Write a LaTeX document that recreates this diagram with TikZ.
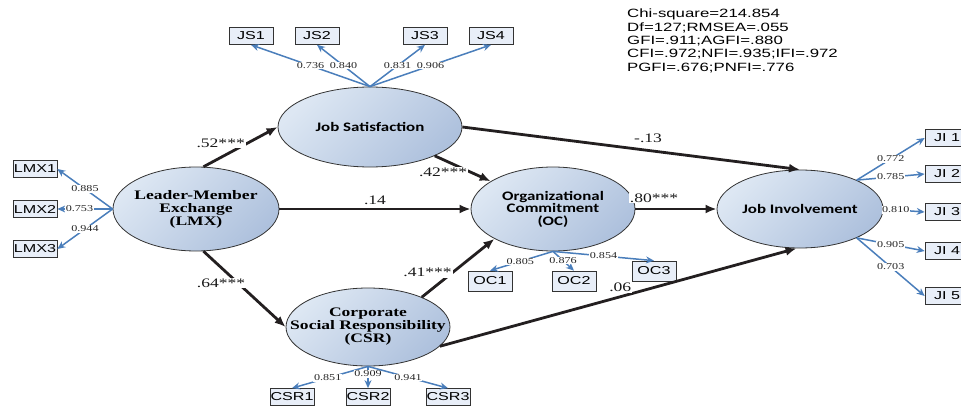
\documentclass[tikz,border=0pt]{standalone}
\usepackage{fontspec}
\usetikzlibrary{
    calc,
    arrows.meta,
    shapes.geometric
}
\newfontfamily\serifwide[FakeStretch=1.35]{Liberation Serif}
\newfontfamily\calwide[FakeStretch=1.3]{Carlito}
\newfontfamily\sanswide[FakeStretch=1.4]{Liberation Sans}
\definecolor{ellLight}{HTML}{DDE7F3}
\definecolor{ellDark}{HTML}{AEC1DD}
\definecolor{boxFill}{HTML}{E8EEF8}
\definecolor{loadBlue}{HTML}{4A7EBB}
\definecolor{pathBlack}{HTML}{231F20}
\tikzset{
    % latent constructs
    latent/.style={
        ellipse, draw=black!80, line width=0.8pt, inner sep=0pt,
        top color=ellLight, bottom color=ellDark, shading angle=45
    },
    sertxt/.style={align=center, font=\serifwide\bfseries\fontsize{13}{13}\selectfont},
    caltxt/.style={align=center, font=\calwide\bfseries\fontsize{13}{12.5}\selectfont},
    % observed indicators
    obsbox/.style={
        draw=black!80, line width=0.7pt, fill=boxFill, inner sep=0pt,
        minimum width=44pt, minimum height=17pt,
        font=\sanswide\fontsize{11.5}{11.5}\selectfont
    },
    loading/.style={draw=loadBlue, line width=1.5pt, -{Stealth[length=8pt, width=7pt]}},
    loadlbl/.style={fill=white, inner sep=0.6pt, text=black!85,
        font=\serifwide\fontsize{9}{9}\selectfont},
    structural/.style={draw=pathBlack, line width=2.8pt, -{Latex[length=11pt, width=9pt]}},
    pathlbl/.style={inner sep=1pt, text=black!90, font=\serifwide\fontsize{13}{13}\selectfont}
}
\begin{document}
\begin{tikzpicture}[x=1pt, y=-1pt]
    \useasboundingbox (0,0) rectangle (961,409);

    \node[latent, minimum width=166pt, minimum height=84pt,
        label={[sertxt]center:{Leader-Member\\Exchange\\(LMX)}}] (lmx) at (196,209) {};
    \node[latent, minimum width=184pt, minimum height=80pt,
        label={[caltxt]center:{Job Satisfaction}}] (js) at (370,127) {};
    \node[latent, minimum width=164pt, minimum height=84pt,
        label={[caltxt]center:{Organizational\\Commitment\\(OC)}}] (oc) at (553,209) {};
    \node[latent, minimum width=166pt, minimum height=78pt,
        label={[caltxt]center:{Job Involvement}}] (ji) at (800,209) {};
    \node[latent, minimum width=164pt, minimum height=78pt,
        label={[sertxt]center:{Corporate\\Social Responsibility\\(CSR)}}] (csr) at (368,327) {};

    % fit indices
    \node[anchor=north west, inner sep=0pt, align=left,
        font=\sanswide\fontsize{12}{13.3}\selectfont] (fit) at (627,9)
        {Chi-square=214.854\\Df=127;RMSEA=.055\\GFI=.911;AGFI=.880\\CFI=.972;NFI=.935;IFI=.972\\PGFI=.676;PNFI=.776};

    % measurement model
    \foreach \n/\x/\l in {1/251/0.736, 2/317/0.840, 3/425/0.831, 4/491/0.906} {
        \node[obsbox] (js\n) at (\x,36) {JS\n};
        \draw[loading] (js.north) -- node[loadlbl]{\l} (js\n.south);
    }
    \foreach \n/\y/\l/\p in {1/169/0.885/.5, 2/209/0.753/.6, 3/249/0.944/.5} {
        \node[obsbox] (lmx\n) at (35,\y) {LMX\n};
        \draw[loading] (lmx.west) -- node[loadlbl, pos=\p]{\l} (lmx\n.east);
    }
    \foreach \n/\y/\a/\l/\p in {1/138/27/0.772/.5, 2/174/27/0.785/.5, 3/212/0/0.810/.3,
                                4/251/-27/0.905/.5, 5/296/-27/0.703/.5} {
        \node[obsbox] (ji\n) at (947,\y) {JI \n};
        \draw[loading] (ji.\a) -- node[loadlbl, pos=\p]{\l} (ji\n.west);
    }
    \foreach \n/\x/\y/\l/\p in {1/490/281/0.805/.52, 2/574/281/0.876/.48, 3/654/271/0.854/.5} {
        \node[obsbox, minimum height=20pt] (oc\n) at (\x,\y) {OC\n};
        \draw[loading] (oc.south) -- node[loadlbl, pos=\p]{\l} (oc\n.north);
    }
    \foreach \n/\x/\l/\p in {1/292/0.851/.53, 2/368/0.909/.35, 3/448/0.941/.5} {
        \node[obsbox] (csr\n) at (\x,397) {CSR\n};
        \draw[loading] (csr.south) -- node[loadlbl, pos=\p]{\l} (csr\n.north);
    }

    % structural model
    \begin{scope}[structural]
        \draw (lmx.80) -- node[pathlbl, fill=white, pos=.3, xshift=-5pt, yshift=12pt]{.52***} (js.west);
        \draw (lmx.east) -- node[pathlbl, above=2pt]{.14} (oc.west);
        \draw (lmx.-80) -- node[pathlbl, fill=white, pos=.3, xshift=-7pt, yshift=-9pt]{.64***} (csr.west);
        \draw (js.-24) -- node[pathlbl, fill=white, pos=.15, yshift=-13pt]{.42***} (oc.156);
        \draw (js.east) -- node[pathlbl, pos=.55, yshift=12pt]{-.13} (ji.north);
        \draw (csr.29) -- node[pathlbl, fill=white, pos=.3, xshift=-16pt, yshift=7pt]{.41***} (oc.207);
        \draw (oc.east) -- node[pathlbl, fill=white, pos=.23, yshift=11pt]{.80***} (ji.west);
        \draw (csr.-15) -- node[pathlbl, fill=white, pos=.5, xshift=2pt, yshift=10pt]{.06} (ji.265);
    \end{scope}
\end{tikzpicture}
\end{document}
